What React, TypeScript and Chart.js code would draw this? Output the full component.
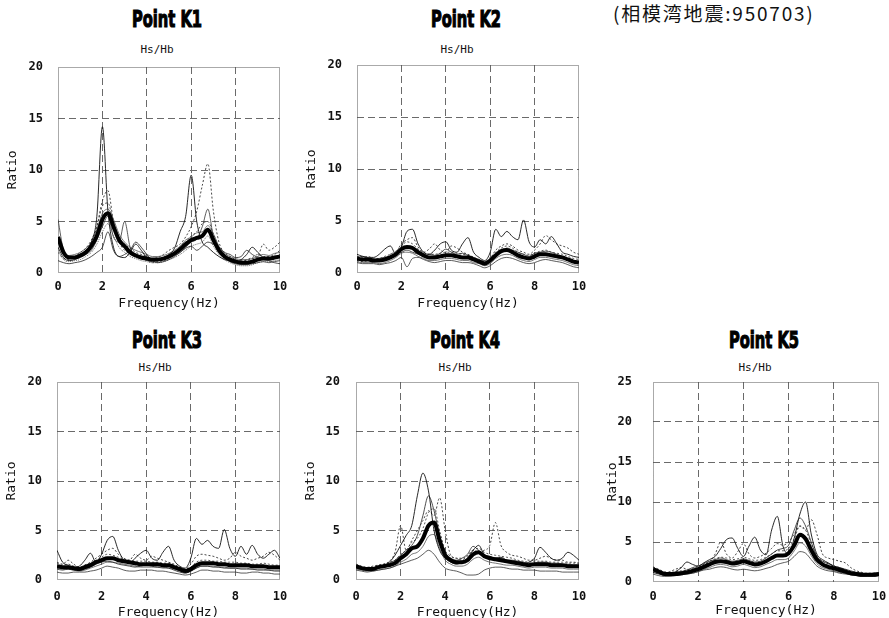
import React, { useEffect, useRef } from "react";
import { Chart, registerables } from "chart.js";

Chart.register(...registerables);

// ---------- data ----------
const FREQ = [0, 0.25, 0.5, 0.75, 1, 1.25, 1.5, 1.75, 2, 2.25, 2.5, 2.75, 3, 3.25, 3.5, 3.75, 4, 4.25, 4.5, 4.75, 5, 5.25, 5.5, 5.75, 6, 6.25, 6.5, 6.75, 7, 7.25, 7.5, 7.75, 8, 8.25, 8.5, 8.75, 9, 9.25, 9.5, 9.75, 10];
const X_TICKS = [0, 2, 4, 6, 8, 10];
const Y_TICKS_20 = [0, 5, 10, 15, 20];
const Y_TICKS_25 = [0, 5, 10, 15, 20, 25];

const K1_MEAN = [3.5, 2.0, 1.5, 1.5, 1.7, 2.0, 2.6, 3.6, 5.2, 5.8, 4.5, 3.2, 2.6, 2.0, 1.7, 1.5, 1.4, 1.3, 1.3, 1.4, 1.6, 1.9, 2.3, 2.8, 3.2, 3.4, 3.6, 4.2, 3.2, 2.2, 1.6, 1.3, 1.1, 1.0, 1.0, 1.1, 1.3, 1.4, 1.4, 1.5, 1.6];
const K1_A = [2.5, 1.5, 1.2, 1.3, 1.6, 2.0, 3.0, 5.5, 14.2, 6.0, 2.5, 1.6, 1.5, 2.0, 2.8, 2.2, 1.5, 1.3, 1.4, 1.5, 1.8, 2.4, 4.0, 5.5, 9.5, 5.0, 3.0, 2.5, 2.0, 1.6, 1.3, 1.2, 1.1, 1.3, 1.8, 2.5, 2.0, 1.5, 1.3, 1.4, 1.8];
const K1_B = [3.0, 1.8, 1.4, 1.5, 1.8, 2.2, 3.0, 4.5, 7.0, 8.0, 5.0, 3.5, 2.8, 2.4, 2.0, 1.8, 1.6, 1.4, 1.5, 1.8, 2.2, 2.5, 2.8, 3.5, 4.5, 6.0, 8.5, 10.6, 6.0, 3.0, 2.0, 1.6, 1.3, 1.2, 1.2, 1.4, 1.6, 2.8, 2.2, 2.5, 3.0];
const K1_C = [5.2, 2.2, 1.6, 1.4, 1.5, 1.8, 2.2, 3.2, 4.5, 5.5, 3.5, 3.0, 5.0, 2.5, 1.8, 1.6, 1.3, 1.1, 1.2, 1.3, 1.5, 1.7, 2.0, 2.5, 3.0, 3.3, 4.5, 6.2, 3.5, 2.2, 1.5, 1.1, 0.9, 0.8, 0.8, 0.9, 1.0, 1.1, 1.0, 1.1, 1.2];
const K1_D = [1.2, 1.0, 0.9, 1.0, 1.1, 1.3, 1.6, 2.0, 2.5, 4.0, 2.2, 1.6, 1.8, 2.2, 3.0, 2.5, 1.8, 1.2, 1.0, 1.1, 1.3, 1.6, 2.0, 2.4, 2.6, 2.2, 2.6, 3.0, 2.8, 2.5, 2.0, 1.8, 1.5, 1.6, 2.2, 1.8, 1.5, 1.3, 1.2, 1.0, 0.9];
const K1_E = [2.0, 1.4, 1.3, 1.6, 2.0, 2.4, 3.2, 4.5, 6.5, 6.8, 4.8, 3.0, 2.2, 1.9, 1.6, 1.4, 1.2, 1.0, 1.1, 1.2, 1.4, 1.8, 2.5, 3.0, 3.6, 4.0, 4.8, 5.0, 3.8, 2.5, 1.8, 1.4, 1.2, 1.1, 1.3, 1.5, 1.8, 1.6, 1.6, 1.8, 2.2];
const K1_F = [3.0, 1.8, 1.7, 1.8, 2.0, 2.4, 3.0, 4.2, 5.8, 6.2, 5.2, 3.8, 3.0, 2.5, 2.2, 2.0, 1.8, 1.6, 1.6, 1.7, 1.9, 2.2, 2.6, 3.2, 3.5, 3.9, 4.0, 4.6, 3.8, 2.6, 1.9, 1.6, 1.4, 1.3, 1.3, 1.4, 1.6, 1.8, 1.7, 1.9, 2.0];
const K1_G = [2.2, 1.3, 1.1, 1.2, 1.3, 1.6, 2.0, 2.8, 4.0, 4.8, 3.6, 2.5, 2.0, 1.6, 1.4, 1.2, 1.1, 1.0, 1.0, 1.1, 1.3, 1.5, 1.8, 2.2, 2.6, 2.8, 3.0, 3.6, 2.6, 1.8, 1.3, 1.0, 0.8, 0.7, 0.7, 0.8, 1.0, 1.1, 1.1, 1.2, 1.3];

const K2_MEAN = [1.4, 1.3, 1.3, 1.2, 1.2, 1.3, 1.5, 1.8, 2.3, 2.5, 2.4, 2.0, 1.7, 1.5, 1.5, 1.6, 1.7, 1.7, 1.6, 1.5, 1.5, 1.3, 1.1, 0.9, 1.2, 1.7, 2.1, 2.2, 2.0, 1.7, 1.5, 1.4, 1.6, 1.8, 1.8, 1.7, 1.6, 1.5, 1.3, 1.1, 1.0];
const K2_A = [1.8, 1.6, 1.5, 1.5, 1.8, 2.3, 2.6, 1.8, 2.5, 4.0, 4.2, 2.8, 2.0, 1.8, 2.2, 2.8, 3.0, 2.2, 2.0, 2.8, 3.4, 2.0, 1.5, 1.2, 2.0, 4.2, 3.5, 4.0, 3.5, 3.2, 5.1, 3.0, 2.5, 3.2, 2.8, 3.5, 2.8, 2.0, 1.8, 1.6, 1.5];
const K2_B = [1.2, 1.1, 1.2, 1.3, 1.1, 1.3, 1.8, 2.0, 2.8, 3.2, 3.4, 2.5, 2.0, 2.3, 2.8, 2.2, 2.0, 2.6, 2.4, 2.0, 1.8, 1.5, 1.2, 1.0, 1.4, 2.2, 2.6, 2.8, 2.6, 2.2, 2.0, 1.8, 2.2, 2.8, 3.6, 3.2, 2.8, 2.6, 2.4, 2.0, 1.8];
const K2_C = [1.0, 0.9, 0.9, 0.9, 0.8, 0.9, 1.0, 1.2, 1.5, 0.6, 1.4, 1.5, 1.3, 1.1, 1.0, 1.1, 1.2, 1.2, 1.1, 1.0, 1.0, 0.9, 0.7, 0.5, 0.7, 1.1, 1.4, 1.5, 1.4, 1.2, 1.0, 0.9, 1.0, 1.2, 1.3, 1.2, 1.1, 1.0, 0.8, 0.6, 0.5];
const K2_D = [1.5, 1.6, 1.4, 1.3, 1.4, 1.5, 1.6, 1.9, 2.0, 2.2, 2.0, 1.8, 1.6, 1.8, 1.7, 1.9, 2.3, 2.0, 1.8, 1.9, 1.7, 1.5, 1.3, 1.1, 1.3, 1.8, 2.0, 2.4, 2.2, 2.0, 1.8, 1.6, 1.9, 2.0, 2.1, 2.0, 1.8, 1.6, 1.4, 1.2, 1.0];
const K2_F = [1.6, 1.5, 1.6, 1.4, 1.4, 1.6, 1.8, 2.1, 2.6, 3.0, 2.8, 2.3, 2.0, 1.8, 1.8, 1.9, 2.0, 2.0, 1.9, 1.8, 1.7, 1.5, 1.3, 1.1, 1.5, 2.0, 2.4, 2.6, 2.4, 2.0, 1.8, 1.7, 1.9, 2.1, 2.2, 2.0, 1.9, 1.8, 1.6, 1.4, 1.3];
const K2_G = [1.1, 1.0, 1.0, 1.0, 0.9, 1.0, 1.2, 1.5, 1.9, 2.0, 1.9, 1.6, 1.4, 1.2, 1.2, 1.3, 1.4, 1.4, 1.3, 1.2, 1.2, 1.0, 0.9, 0.7, 0.9, 1.4, 1.7, 1.8, 1.7, 1.4, 1.2, 1.1, 1.3, 1.5, 1.5, 1.4, 1.3, 1.2, 1.0, 0.8, 0.7];

const K3_MEAN = [1.4, 1.3, 1.3, 1.2, 1.1, 1.3, 1.5, 1.8, 2.0, 2.2, 2.2, 2.0, 1.9, 1.8, 1.7, 1.6, 1.6, 1.6, 1.6, 1.5, 1.5, 1.3, 1.1, 0.9, 1.1, 1.5, 1.7, 1.7, 1.7, 1.6, 1.6, 1.5, 1.5, 1.5, 1.5, 1.4, 1.4, 1.4, 1.3, 1.3, 1.3];
const K3_A = [3.0, 1.8, 1.5, 1.3, 1.4, 2.0, 2.7, 1.8, 2.6, 4.0, 4.4, 3.0, 2.0, 1.7, 2.2, 2.7, 3.0, 2.2, 2.0, 2.8, 3.4, 2.0, 1.4, 1.2, 2.2, 4.2, 3.6, 4.0, 3.4, 3.2, 5.1, 3.2, 2.4, 3.4, 2.6, 3.5, 2.6, 2.2, 2.6, 3.0, 2.2];
const K3_B = [1.8, 1.6, 2.0, 1.6, 1.3, 1.5, 1.8, 2.2, 2.6, 3.0, 3.2, 2.6, 2.2, 2.0, 2.6, 2.2, 2.0, 2.4, 2.2, 2.0, 1.8, 1.6, 1.3, 1.1, 1.6, 2.4, 2.6, 2.5, 2.4, 2.2, 2.0, 2.2, 2.8, 2.4, 2.2, 2.0, 2.2, 2.4, 2.8, 2.5, 2.0];
const K3_C = [0.8, 0.7, 0.7, 0.8, 0.8, 0.8, 0.9, 1.0, 1.2, 1.4, 1.3, 1.2, 1.0, 0.9, 0.9, 1.0, 1.0, 1.0, 0.9, 0.9, 0.8, 0.7, 0.6, 0.5, 0.6, 0.8, 1.0, 1.0, 0.9, 0.9, 0.8, 0.8, 0.8, 0.7, 0.7, 0.8, 0.8, 0.7, 0.7, 0.6, 0.6];
const K3_D = [1.1, 1.0, 1.1, 1.0, 1.0, 1.1, 1.3, 1.6, 1.8, 1.9, 1.8, 1.6, 1.5, 1.4, 1.3, 1.4, 1.5, 1.4, 1.3, 1.3, 1.2, 1.0, 0.8, 0.7, 0.9, 1.2, 1.4, 1.4, 1.3, 1.3, 1.2, 1.2, 1.2, 1.1, 1.1, 1.1, 1.0, 1.0, 1.0, 0.9, 0.9];
const K3_F = [1.7, 1.5, 1.6, 1.4, 1.3, 1.5, 1.7, 2.0, 2.3, 2.6, 2.5, 2.3, 2.1, 2.0, 1.9, 1.9, 1.9, 1.8, 1.8, 1.7, 1.7, 1.5, 1.3, 1.1, 1.3, 1.8, 2.0, 2.0, 1.9, 1.9, 1.8, 1.8, 1.8, 1.7, 1.7, 1.6, 1.6, 1.7, 1.6, 1.5, 1.5];
const K3_G = [1.2, 1.1, 1.1, 1.0, 0.9, 1.0, 1.2, 1.4, 1.6, 1.8, 1.8, 1.7, 1.6, 1.5, 1.4, 1.3, 1.3, 1.3, 1.3, 1.2, 1.2, 1.1, 0.9, 0.7, 0.9, 1.2, 1.4, 1.4, 1.4, 1.3, 1.3, 1.2, 1.2, 1.2, 1.2, 1.1, 1.1, 1.1, 1.0, 1.0, 1.0];

const K4_MEAN = [1.4, 1.2, 1.1, 1.1, 1.3, 1.4, 1.5, 1.7, 2.2, 2.6, 3.2, 3.4, 4.2, 5.5, 5.8, 4.0, 2.5, 2.0, 1.8, 1.8, 2.0, 2.6, 2.8, 2.4, 2.2, 2.1, 2.0, 1.9, 1.8, 1.7, 1.6, 1.5, 1.6, 1.6, 1.6, 1.5, 1.5, 1.5, 1.4, 1.4, 1.4];
const K4_A = [1.5, 1.2, 1.0, 1.1, 1.2, 1.4, 1.8, 2.5, 3.5, 4.5, 5.5, 8.5, 10.8, 9.0, 5.0, 3.0, 2.2, 1.8, 1.6, 1.8, 2.2, 3.0, 3.5, 2.6, 2.4, 2.2, 2.3, 2.0, 1.8, 1.7, 1.6, 1.8, 2.2, 3.3, 2.8, 2.2, 2.0, 2.2, 2.8, 2.5, 2.0];
const K4_B = [1.3, 1.1, 1.2, 1.4, 1.5, 1.6, 1.9, 2.8, 5.5, 3.0, 4.0, 5.0, 6.0, 7.0, 6.5, 8.3, 5.0, 2.5, 2.2, 2.0, 2.5, 3.0, 2.8, 3.0, 3.5, 5.8, 3.5, 2.8, 2.5, 2.4, 2.2, 2.0, 2.0, 2.2, 2.4, 2.2, 2.0, 2.0, 1.8, 1.8, 1.7];
const K4_C = [1.0, 0.9, 0.8, 0.9, 1.0, 1.1, 1.2, 1.4, 1.6, 1.8, 2.0, 2.2, 2.6, 3.0, 2.6, 1.8, 1.2, 1.0, 0.9, 0.7, 0.5, 0.5, 0.6, 1.0, 1.2, 1.3, 1.3, 1.2, 1.1, 1.1, 1.0, 1.0, 1.0, 0.9, 0.9, 0.9, 0.9, 0.8, 0.8, 0.8, 0.8];
const K4_D = [1.2, 1.1, 1.1, 1.2, 1.3, 1.5, 1.7, 2.0, 2.5, 3.0, 3.5, 4.5, 6.5, 8.5, 7.0, 4.5, 2.8, 2.2, 2.0, 2.2, 2.6, 3.4, 3.0, 2.5, 2.3, 2.2, 2.2, 2.0, 2.0, 1.9, 1.8, 1.7, 1.7, 1.8, 1.8, 1.7, 1.7, 1.6, 1.6, 1.5, 1.5];
const K4_F = [1.6, 1.4, 1.3, 1.3, 1.5, 1.6, 1.8, 2.0, 2.6, 3.0, 3.8, 4.2, 5.2, 6.8, 7.2, 5.0, 3.0, 2.4, 2.2, 2.2, 2.4, 3.0, 3.2, 2.8, 2.6, 2.5, 2.4, 2.3, 2.2, 2.0, 1.9, 1.8, 1.9, 1.9, 1.9, 1.8, 1.8, 1.8, 1.7, 1.7, 1.7];
const K4_G = [1.1, 1.0, 0.9, 0.9, 1.0, 1.1, 1.2, 1.4, 1.8, 2.1, 2.6, 2.8, 3.4, 4.4, 4.6, 3.2, 2.0, 1.6, 1.4, 1.4, 1.6, 2.1, 2.3, 2.0, 1.8, 1.7, 1.6, 1.5, 1.5, 1.4, 1.3, 1.2, 1.3, 1.3, 1.3, 1.2, 1.2, 1.2, 1.1, 1.1, 1.1];

const K5_MEAN = [1.6, 1.3, 1.0, 1.0, 1.0, 1.1, 1.2, 1.4, 1.6, 1.9, 2.2, 2.5, 2.6, 2.5, 2.3, 2.4, 2.6, 2.4, 2.2, 2.3, 2.6, 3.0, 3.3, 3.3, 3.6, 4.6, 5.9, 5.4, 4.0, 2.8, 2.2, 1.9, 1.7, 1.5, 1.3, 1.1, 1.0, 0.9, 0.9, 0.9, 1.0];
const K5_A = [1.2, 1.0, 0.9, 1.0, 1.3, 1.8, 2.5, 2.2, 2.0, 2.4, 2.8, 3.2, 4.2, 5.3, 5.5, 4.2, 3.2, 4.5, 5.6, 4.0, 3.4, 6.5, 8.2, 4.5, 3.5, 5.5, 8.5, 10.0, 6.0, 3.5, 2.8, 2.4, 2.0, 1.8, 1.5, 1.2, 1.0, 1.0, 1.0, 1.1, 1.1];
const K5_B = [1.4, 1.2, 1.1, 1.3, 1.6, 1.8, 1.6, 1.5, 1.8, 2.2, 2.5, 3.5, 5.0, 3.5, 3.0, 3.8, 4.8, 3.5, 3.0, 3.2, 3.6, 4.2, 4.8, 4.6, 5.0, 6.0, 7.0, 6.5, 7.8, 6.0, 3.5, 3.0, 2.8, 2.6, 2.4, 1.8, 1.4, 1.2, 1.0, 1.0, 0.9];
const K5_C = [1.0, 0.8, 0.7, 0.7, 0.8, 0.9, 1.0, 1.1, 1.3, 1.5, 1.6, 1.8, 1.9, 1.8, 1.6, 1.5, 1.6, 1.5, 1.4, 1.5, 1.7, 1.9, 2.2, 2.4, 2.6, 3.2, 3.8, 3.6, 2.8, 2.0, 1.6, 1.4, 1.3, 1.1, 1.0, 0.9, 0.8, 0.7, 0.7, 0.7, 0.8];
const K5_D = [1.8, 1.5, 1.2, 1.1, 1.2, 1.3, 1.5, 1.8, 2.0, 2.3, 2.6, 2.8, 3.0, 2.8, 2.6, 2.7, 2.9, 2.7, 2.5, 2.6, 3.0, 3.5, 4.0, 4.2, 4.6, 6.5, 8.0, 7.0, 5.0, 3.2, 2.6, 2.3, 2.0, 1.8, 1.6, 1.4, 1.2, 1.1, 1.0, 1.0, 1.0];
const K5_F = [1.9, 1.6, 1.3, 1.2, 1.3, 1.4, 1.5, 1.7, 1.9, 2.2, 2.6, 2.9, 3.1, 3.0, 2.8, 2.9, 3.1, 2.9, 2.7, 2.8, 3.1, 3.5, 3.9, 3.9, 4.2, 5.4, 7.0, 6.5, 4.8, 3.4, 2.6, 2.3, 2.0, 1.8, 1.6, 1.3, 1.2, 1.1, 1.1, 1.1, 1.2];
const K5_G = [1.3, 1.1, 0.8, 0.8, 0.8, 0.9, 1.0, 1.1, 1.3, 1.6, 1.8, 2.1, 2.2, 2.1, 1.9, 2.0, 2.2, 2.0, 1.8, 1.9, 2.2, 2.5, 2.8, 2.8, 3.0, 3.9, 4.9, 4.5, 3.3, 2.3, 1.8, 1.6, 1.4, 1.2, 1.1, 0.9, 0.8, 0.7, 0.7, 0.7, 0.8];

const NOTE = "(相模湾地震:950703)";

// ---------- layout ----------
const AXIS_W = 58;
const PAD_T = 12;
const PAD_R = 8;
const AXIS_H = 42;

type PanelCfg = {
  name: string;
  L: number; T: number; R: number; B: number;
  yMax: number; yTicks: number[];
  mean: number[]; thin: number[][];
  yTickPad: number; yTitlePad: number; xTickPad: number; xTitlePad: number;
  titleCx: number; titleCy: number; subCx: number; subCy: number;
};

const PANELS: PanelCfg[] = [
  { name: "Point K1", L: 58, T: 67, R: 280, B: 273, yMax: 20, yTicks: Y_TICKS_20, mean: K1_MEAN, thin: [K1_A, K1_B, K1_C, K1_D, K1_E, K1_F, K1_G], yTickPad: 15, yTitlePad: 5, xTickPad: 7, xTitlePad: 4, titleCx: 167, titleCy: 18.5, subCx: 157, subCy: 50 },
  { name: "Point K2", L: 357, T: 65, R: 579, B: 273, yMax: 20, yTicks: Y_TICKS_20, mean: K2_MEAN, thin: [K2_A, K2_B, K2_C, K2_D, K2_F, K2_G], yTickPad: 15, yTitlePad: 5, xTickPad: 7, xTitlePad: 4, titleCx: 466, titleCy: 18.5, subCx: 457, subCy: 50 },
  { name: "Point K3", L: 57, T: 382, R: 280, B: 580, yMax: 20, yTicks: Y_TICKS_20, mean: K3_MEAN, thin: [K3_A, K3_B, K3_C, K3_D, K3_F, K3_G], yTickPad: 15, yTitlePad: 5, xTickPad: 10, xTitlePad: 2, titleCx: 167, titleCy: 339, subCx: 155, subCy: 368 },
  { name: "Point K4", L: 356, T: 382, R: 579, B: 580, yMax: 20, yTicks: Y_TICKS_20, mean: K4_MEAN, thin: [K4_A, K4_B, K4_C, K4_D, K4_F, K4_G], yTickPad: 16, yTitlePad: 5, xTickPad: 10, xTitlePad: 2, titleCx: 465, titleCy: 339, subCx: 455, subCy: 368 },
  { name: "Point K5", L: 653, T: 382, R: 879, B: 582, yMax: 25, yTicks: Y_TICKS_25, mean: K5_MEAN, thin: [K5_A, K5_B, K5_C, K5_D, K5_F, K5_G], yTickPad: 21, yTitlePad: 10, xTickPad: 8, xTitlePad: 6, titleCx: 764, titleCy: 339, subCx: 755, subCy: 368 },
];

const THIN_STYLES = [
  { color: "#111", width: 0.9, dash: [] as number[] },
  { color: "#333", width: 0.9, dash: [2, 2] },
  { color: "#333", width: 0.8, dash: [] as number[] },
  { color: "#222", width: 0.8, dash: [] as number[] },
  { color: "#444", width: 0.9, dash: [2, 2] },
  { color: "#555", width: 0.8, dash: [] as number[] },
  { color: "#444", width: 0.8, dash: [1, 1] },
];

const MONO = '"DejaVu Sans Mono", "Liberation Mono", monospace';
const CLEAR = "rgba(0,0,0,0)";

const framePlugin = {
  id: "frame",
  beforeDatasetsDraw(chart: any) {
    const { ctx, chartArea: a } = chart;
    ctx.save();
    ctx.strokeStyle = "#555";
    ctx.lineWidth = 1;
    ctx.setLineDash([1, 1]);
    ctx.strokeRect(Math.round(a.left) + 0.5, Math.round(a.top) + 0.5, Math.round(a.right - a.left) - 1, Math.round(a.bottom - a.top) - 1);
    ctx.restore();
  },
};

function Panel({ cfg }: { cfg: PanelCfg }) {
  const ref = useRef<HTMLCanvasElement>(null);
  const w = cfg.R - cfg.L + AXIS_W + PAD_R;
  const h = cfg.B - cfg.T + PAD_T + AXIS_H;
  const left = cfg.L - AXIS_W;
  const top = cfg.T - PAD_T;

  useEffect(() => {
    if (!ref.current) return;
    const toPts = (arr: number[]) => FREQ.map((f, i) => ({ x: f, y: arr[i] }));
    const datasets: any[] = [
      {
        data: toPts(cfg.mean),
        borderColor: "#000",
        borderWidth: 4,
        pointRadius: 0,
        cubicInterpolationMode: "monotone",
      },
      ...cfg.thin.map((arr, i) => {
        const s = THIN_STYLES[i % THIN_STYLES.length];
        return {
          data: toPts(arr),
          borderColor: s.color,
          borderWidth: s.width,
          borderDash: s.dash,
          pointRadius: 0,
          cubicInterpolationMode: "monotone",
        };
      }),
    ];
    const edgeColor = (max: number) => (c: any) =>
      c.tick && (c.tick.value === 0 || c.tick.value === max) ? CLEAR : "#6a6a6a";
    const chart = new Chart(ref.current, {
      type: "line",
      data: { datasets },
      plugins: [framePlugin],
      options: {
        animation: false,
        responsive: false,
        maintainAspectRatio: false,
        layout: { padding: { top: PAD_T, right: PAD_R, left: 0, bottom: 0 } },
        plugins: { legend: { display: false }, tooltip: { enabled: false } },
        scales: {
          x: {
            type: "linear",
            min: 0,
            max: 10,
            afterFit: (s: any) => { s.height = AXIS_H; },
            afterBuildTicks: (s: any) => { s.ticks = X_TICKS.map((v) => ({ value: v })); },
            ticks: { autoSkip: false, maxRotation: 0, padding: 0, color: "#111", font: { family: MONO, size: 12, weight: "bold" } },
            grid: { drawTicks: true, tickLength: cfg.xTickPad, tickColor: CLEAR, color: edgeColor(10), lineWidth: 1 },
            border: { display: false, dash: [7, 4] },
            title: { display: true, text: "Frequency(Hz)", color: "#111", font: { family: MONO, size: 13 }, padding: { top: 0, bottom: cfg.xTitlePad } },
          },
          y: {
            type: "linear",
            min: 0,
            max: cfg.yMax,
            afterFit: (s: any) => { s.width = AXIS_W; },
            afterBuildTicks: (s: any) => { s.ticks = cfg.yTicks.map((v) => ({ value: v })); },
            ticks: { autoSkip: false, padding: 0, color: "#111", font: { family: MONO, size: 12, weight: "bold" } },
            grid: { drawTicks: true, tickLength: cfg.yTickPad, tickColor: CLEAR, color: edgeColor(cfg.yMax), lineWidth: 1 },
            border: { display: false, dash: [7, 4] },
            title: { display: true, text: "Ratio", color: "#111", font: { family: MONO, size: 13 }, padding: { top: cfg.yTitlePad, bottom: 0 } },
          },
        },
      } as any,
    });
    return () => chart.destroy();
  }, [cfg]);

  return (
    <>
      <div
        style={{
          position: "absolute",
          left: cfg.titleCx - 100,
          top: cfg.titleCy - 11.5,
          width: 200,
          textAlign: "center",
          fontFamily: '"DejaVu Sans", sans-serif',
          fontWeight: "bold",
          fontSize: 23,
          lineHeight: "24px",
          color: "#000",
          transform: "scaleX(0.64)",
          WebkitTextStroke: "1.2px #000",
          whiteSpace: "nowrap",
        }}
      >
        {cfg.name}
      </div>
      <div
        style={{
          position: "absolute",
          left: cfg.subCx - 40,
          top: cfg.subCy - 5.8,
          width: 80,
          textAlign: "center",
          fontFamily: MONO,
          fontSize: 11,
          lineHeight: "12px",
          color: "#111",
          whiteSpace: "nowrap",
        }}
      >
        Hs/Hb
      </div>
      <canvas
        ref={ref}
        width={w}
        height={h}
        style={{ position: "absolute", left, top, width: w, height: h }}
      />
    </>
  );
}

export default function App() {
  return (
    <div style={{ position: "absolute", left: 0, top: 0, width: 889, height: 618, background: "#fff", overflow: "hidden" }}>
      <div
        style={{
          position: "absolute",
          left: 613,
          top: 2.5,
          fontFamily: '"Noto Sans CJK JP", sans-serif',
          fontSize: 19,
          lineHeight: "19px",
          letterSpacing: "1.8px",
          color: "#111",
          whiteSpace: "nowrap",
        }}
      >
        {NOTE}
      </div>
      {PANELS.map((p) => (
        <Panel key={p.name} cfg={p} />
      ))}
    </div>
  );
}
